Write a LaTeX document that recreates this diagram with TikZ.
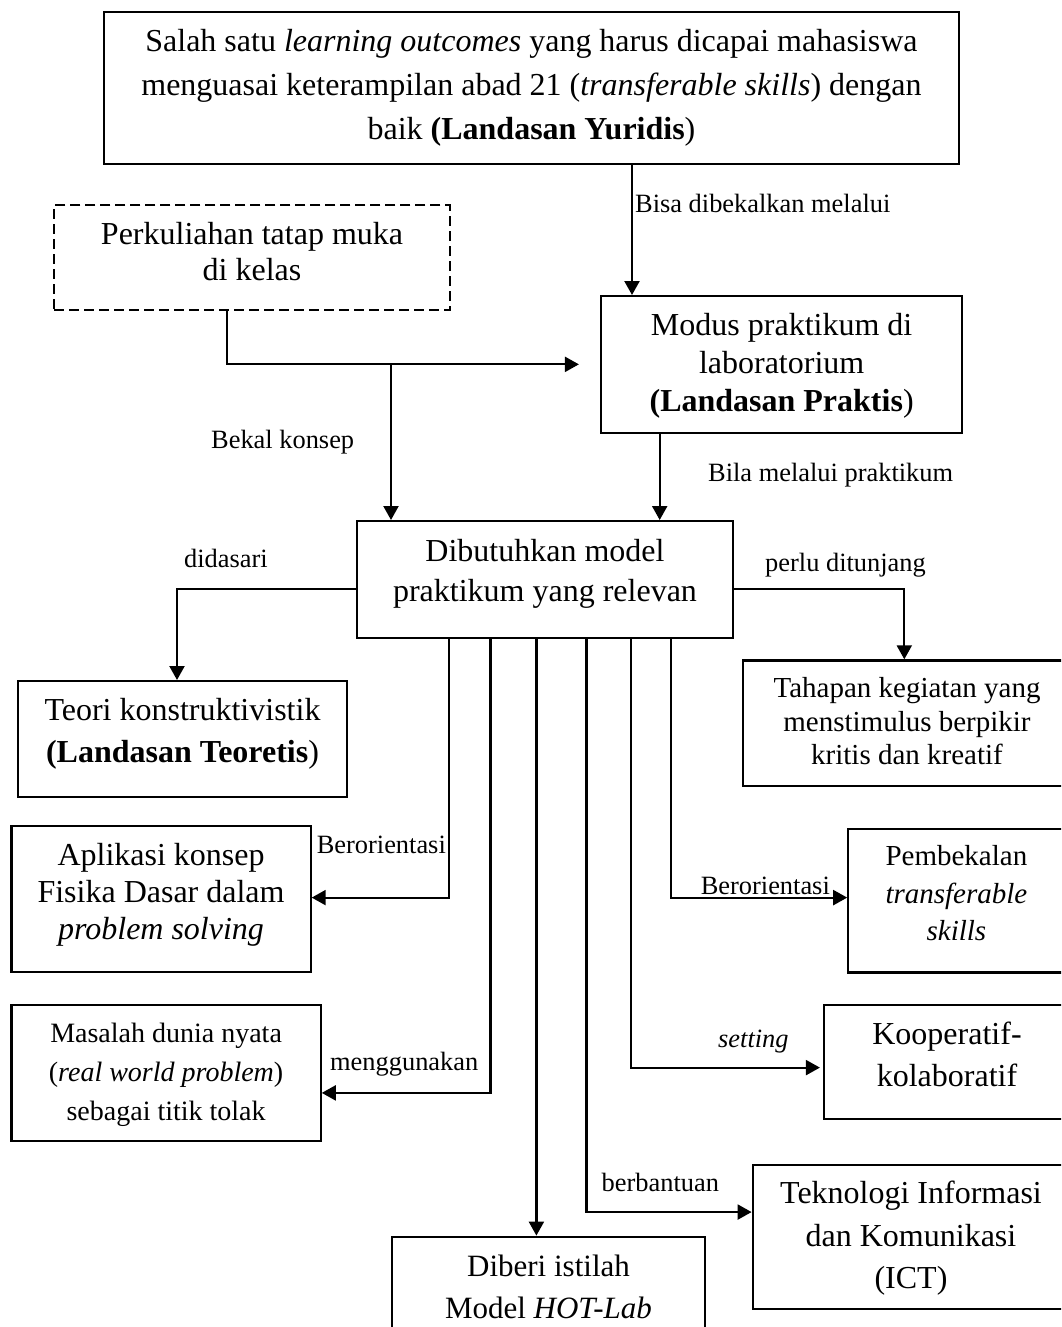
\documentclass[tikz,border=0pt]{standalone}
\usepackage{fontspec}
\setmainfont{Liberation Serif}
\usetikzlibrary{arrows.meta}
\tikzset{
  box/.style={draw, line width=2.2pt, inner sep=0pt, align=flush center, anchor=north},
  big/.style={font=\fontsize{32}{#1}\selectfont},
  conn/.style={line width=2.2pt, -{Triangle[length=14pt,width=15pt]}},
  lbl/.style={inner sep=0pt, anchor=base west, font=\fontsize{26.4}{30}\selectfont},
}
\begin{document}
\begin{tikzpicture}[x=1pt,y=-1pt]
\useasboundingbox (0,0) rectangle (1061,1327);
\fill[white] (0,0) rectangle (1061,1327);
\clip (0,0) rectangle (1061,1327);

% boxes
\node[box, big=44, text width=855pt, text height=39.7pt, text depth=111.8pt] (top) at (531.5,11)
  {Salah satu \textit{learning outcomes} yang harus dicapai mahasiswa\\
   menguasai keterampilan abad 21 (\textit{transferable skills}) dengan\\
   baik \textbf{(Landasan Yuridis})};
\node[box, big=36, dash pattern=on 10pt off 5pt, text width=395.5pt, text height=39pt, text depth=66pt] (dashed) at (252.05,204)
  {Perkuliahan tatap muka\\ di kelas};
\node[box, big=38, text width=361.3pt, text height=39pt, text depth=97.5pt] (modus) at (781.65,295)
  {Modus praktikum di\\ laboratorium\\ \textbf{(Landasan Praktis})};
\node[box, big=40, text width=376pt, text height=40pt, text depth=76.5pt] (dib) at (545,520)
  {Dibutuhkan model\\ praktikum yang relevan};
\node[box, big=42.5, text width=329pt, text height=39pt, text depth=77pt] (teori) at (182.5,680)
  {Teori konstruktivistik\\ \textbf{(Landasan Teoretis})};
\node[box, font=\fontsize{29}{33.5}\selectfont, text width=327.4pt, text height=37.4pt, text depth=88.3pt] (tahapan) at (907,659.3)
  {Tahapan kegiatan yang\\ menstimulus berpikir\\ kritis dan kreatif};
\node[box, big=37, text width=299.1pt, text height=38.9pt, text depth=107.1pt] (aplikasi) at (161.05,825)
  {Aplikasi konsep\\ Fisika Dasar dalam\\ \textit{problem solving}};
\node[box, font=\fontsize{29}{37.5}\selectfont, text width=216.2pt, text height=36.9pt, text depth=106.9pt] (pembekalan) at (956.4,827.6)
  {Pembekalan\\ \textit{transferable}\\ \textit{skills}};
\node[box, font=\fontsize{28}{39}\selectfont, text width=309.2pt, text height=37pt, text depth=99pt] (masalah) at (166.1,1004)
  {Masalah dunia nyata\\ (\textit{real world problem})\\ sebagai titik tolak};
\node[box, big=41.3, text width=246pt, text height=39.7pt, text depth=74.3pt] (kooperatif) at (947,1004)
  {Kooperatif-\\ kolaboratif};
\node[box, big=42.3, text width=316.6pt, text height=39pt, text depth=105.3pt] (teknologi) at (911,1163.7)
  {Teknologi Informasi\\ dan Komunikasi\\ (ICT)};
\node[box, font=\fontsize{31}{42}\selectfont, text width=313pt, text height=40pt, text depth=84.4pt] (diberi) at (548.5,1235.6)
  {Diberi istilah\\ Model \textit{HOT-Lab}};

% x positions of vertical connector segments
\coordinate (xa) at (632,0);
\coordinate (xd) at (227.3,0);
\coordinate (xj) at (391,0);
\coordinate (xm) at (659.7,0);
\coordinate (x1) at (449,0);
\coordinate (x2) at (490.5,0);
\coordinate (x3) at (536.4,0);
\coordinate (x4) at (586.5,0);
\coordinate (x5) at (631,0);
\coordinate (x6) at (671,0);

% connectors
\draw[conn] (top.south -| xa) -- (modus.north -| xa);
\draw[conn, shorten >=21pt] (dashed.south -| xd) |- (modus.west);
\draw[conn] (xj |- modus.west) -- (dib.north -| xj);
\draw[conn] (modus.south -| xm) -- (dib.north -| xm);
\draw[conn] ([yshift=-9.7pt]dib.west) -| ([xshift=-5.5pt]teori.north);
\draw[conn] ([yshift=-9.7pt]dib.east) -| ([xshift=-2.7pt]tahapan.north);
\draw[conn] (dib.south -| x1) |- ([yshift=1.5pt]aplikasi.east);
\draw[conn] (dib.south -| x2) |- ([yshift=-19.8pt]masalah.east);
\draw[conn] (dib.south -| x3) -- (diberi.north -| x3);
\draw[conn] (dib.south -| x4) |- ([yshift=24.9pt]teknologi.west);
\draw[conn, shorten >=3pt] (dib.south -| x5) |- ([yshift=-5.5pt]kooperatif.west);
\draw[conn] (dib.south -| x6) |- ([yshift=3pt]pembekalan.west);

% labels
\node[lbl] (l1) at (635,212.7) {Bisa dibekalkan melalui};
\node[lbl] (l2) at (211,448) {Bekal konsep};
\node[lbl] (l3) at (708,481.7) {Bila melalui praktikum};
\node[lbl] (l4) at (184,567) {didasari};
\node[lbl] (l5) at (765,571.7) {perlu ditunjang};
\node[lbl] (l6) at (316.6,853.8) {Berorientasi};
\node[lbl] (l7) at (700.6,894) {Berorientasi};
\node[lbl] (l8) at (330,1070.6) {menggunakan};
\node[lbl] (l9) at (718,1047) {\textit{setting}};
\node[lbl] (l10) at (601.5,1191.6) {berbantuan};
\end{tikzpicture}
\end{document}
